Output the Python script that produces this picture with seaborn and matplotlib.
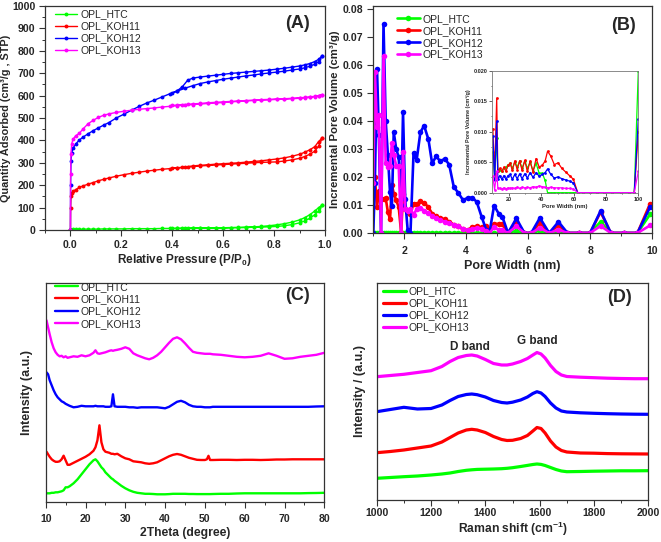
import matplotlib
matplotlib.use('Agg')
import matplotlib.pyplot as plt
import seaborn as sns
import pandas as pd
from matplotlib.ticker import MultipleLocator

sns.set_style('ticks')
plt.rcParams['font.family'] = ['Liberation Sans', 'DejaVu Sans']
plt.rcParams['font.weight'] = 'bold'
plt.rcParams['mathtext.fontset'] = 'custom'
plt.rcParams['mathtext.rm'] = 'Liberation Sans:bold'
plt.rcParams['mathtext.bf'] = 'Liberation Sans:bold'
plt.rcParams['mathtext.it'] = 'Liberation Sans:bold:italic'
plt.rcParams['mathtext.default'] = 'rm'

names = ['OPL_HTC', 'OPL_KOH11', 'OPL_KOH12', 'OPL_KOH13']
colors = ['#00ff00', '#ff0000', '#0000ff', '#ff00ff']

# ---------------- Panel A: N2 isotherms ----------------
P_ads = [0.0, 0.0005, 0.002, 0.005, 0.01, 0.02, 0.035, 0.05, 0.07, 0.09, 0.11, 0.13, 0.15,
         0.18, 0.21, 0.24, 0.27, 0.30, 0.33, 0.36, 0.39, 0.42, 0.45, 0.48, 0.51, 0.54, 0.57,
         0.60, 0.63, 0.66, 0.69, 0.72, 0.75, 0.78, 0.81, 0.84, 0.87, 0.90, 0.92, 0.94, 0.96,
         0.975, 0.99]
P_des = [0.99, 0.975, 0.96, 0.94, 0.92, 0.90, 0.87, 0.84, 0.81, 0.78, 0.75, 0.72, 0.69,
         0.66, 0.63, 0.60, 0.57, 0.54, 0.51, 0.48, 0.46, 0.44, 0.42, 0.40]
htc_ads = [0, 1, 2, 2, 3, 3, 3, 4, 4, 4, 4, 5, 5, 5, 5, 6, 6, 6, 6, 7, 7, 7, 7, 8, 8, 8, 9,
           9, 10, 10, 11, 12, 13, 14, 16, 19, 24, 32, 40, 52, 68, 85, 112]
htc_des = [112, 100, 85, 68, 55, 45, 35, 28, 23, 19, 16, 14, 13, 12, 11, 10, 10, 9, 9, 8, 8,
           8, 7, 7]
koh11_ads = [0, 100, 150, 163, 172, 180, 190, 197, 205, 212, 220, 226, 232, 240, 247, 253,
             258, 263, 267, 271, 274, 277, 280, 283, 286, 288, 290, 292, 294, 296, 298, 300,
             302, 303, 304, 308, 313, 320, 328, 338, 352, 375, 412]
koh11_des = [412, 395, 372, 358, 347, 338, 329, 322, 317, 313, 309, 306, 303, 300, 298, 296,
             294, 291, 289, 286, 283, 280, 278, 276]
koh12_ads = [0, 200, 310, 345, 365, 383, 402, 415, 430, 444, 456, 468, 479, 500, 517, 535,
             552, 567, 580, 594, 608, 620, 633, 644, 654, 661, 667, 673, 678, 683, 688, 692,
             697, 701, 705, 709, 714, 719, 724, 731, 740, 752, 778]
koh12_des = [778, 762, 752, 743, 737, 732, 727, 722, 718, 714, 711, 708, 705, 702, 699, 695,
             691, 687, 683, 678, 668, 640, 622, 612]
koh13_ads = [0, 250, 340, 385, 405, 420, 432, 452, 475, 490, 503, 512, 518, 525, 530, 535,
             539, 542, 545, 549, 552, 555, 558, 560, 562, 565, 567, 569, 572, 574, 576, 578,
             580, 581, 583, 584, 586, 588, 590, 592, 595, 599, 604]
koh13_des = [604, 600, 597, 594, 592, 590, 588, 586, 585, 583, 582, 580, 578, 576, 574, 572,
             570, 568, 565, 563, 561, 560, 558, 556]

# ---------------- Panel B: pore size distribution ----------------
pw = [1.00, 1.05, 1.12, 1.18, 1.25, 1.33, 1.40, 1.47, 1.54, 1.60, 1.66, 1.74, 1.82, 1.90,
      1.96, 2.03, 2.11, 2.20, 2.30, 2.40, 2.52, 2.64, 2.78, 2.90, 3.03, 3.16, 3.31, 3.45,
      3.60, 3.74, 3.90, 4.05, 4.20, 4.34, 4.50, 4.65, 4.75, 4.90, 5.05, 5.17, 5.35, 5.62,
      5.88, 6.10, 6.38, 6.68, 6.98, 7.27, 7.65, 8.00, 8.34, 8.67, 9.10, 9.53, 9.94]
pv_htc = [0, 0, 0, 0, 0, 0, 0, 0, 0, 0, 0, 0, 0, 0, 0, 0, 0, 0, 0, 0, 0, 0, 0, 0, 0, 0, 0,
          0, 0, 0, 0, 0, 0, 0, 0, 0, 0, 0, 0, 0, 0, 0.0008, 0, 0, 0.0008, 0, 0.0005, 0, 0, 0,
          0.0040, 0, 0, 0, 0.0067]
pv_koh11 = [0.015, 0.020, 0.0093, 0.0150, 0.012, 0.0123, 0.0125, 0.0075, 0.0050, 0.0173,
            0.0140, 0.0117, 0.0093, 0.0, 0.014, 0.0087, 0.0075, 0.0069, 0.0105, 0.0102,
            0.0113, 0.0108, 0.0092, 0.0069, 0.0060, 0.0052, 0.0050, 0.0040, 0.0030, 0.0025,
            0.0013, 0.0010, 0.0022, 0.0024, 0.0020, 0.0024, 0.0012, 0.0033, 0.0032, 0.0031,
            0.0, 0.0042, 0.0, 0.0, 0.0036, 0.0, 0.0027, 0, 0, 0, 0.0075, 0, 0, 0, 0.0105]
pv_koh12 = [0.0, 0.018, 0.0585, 0.035, 0.0, 0.0745, 0.040, 0.028, 0.0145, 0.0095, 0.036,
            0.030, 0.027, 0.010, 0.043, 0.012, 0.001, 0.0, 0.0286, 0.026, 0.0359, 0.0383,
            0.0334, 0.0248, 0.0274, 0.0256, 0.0265, 0.0244, 0.0164, 0.0144, 0.0117, 0.0126,
            0.0126, 0.0111, 0.0057, 0.001, 0.0, 0.0098, 0.0069, 0.0057, 0.0, 0.0052, 0.0, 0.0,
            0.0054, 0.0, 0.0040, 0.0, 0.0, 0.0, 0.0079, 0.0, 0.0, 0.0, 0.0093]
pv_koh13 = [0.018, 0.0576, 0.038, 0.042, 0.0, 0.063, 0.0248, 0.0236, 0.024, 0.032, 0.028,
            0.024, 0.024, 0.0, 0.029, 0.0087, 0.0079, 0.0087, 0.0065, 0.0085, 0.0090, 0.0080,
            0.0070, 0.0060, 0.0052, 0.0045, 0.0040, 0.0035, 0.0030, 0.0025, 0.0015, 0.0010,
            0.0015, 0.0018, 0.0015, 0.0008, 0.0, 0.0020, 0.0012, 0.0010, 0.0, 0.0024, 0.0,
            0.0, 0.0018, 0.0, 0.0012, 0, 0, 0, 0.0025, 0, 0, 0, 0.0027]

# inset (10-100 nm)
pw_in = [9.9, 11.0, 12.3, 13.0, 14.2, 15.5, 16.8, 18.0, 19.3, 20.6, 22.0, 23.5, 25.0, 26.5,
         28.0, 29.7, 31.3, 33.0, 34.8, 36.7, 38.6, 40.5, 42.3, 43.8, 45.8, 48.0, 50.3, 52.6,
         55.0, 57.4, 59.8, 62.5, 66.0, 70.0, 74.5, 79.0, 84.0, 89.0, 94.0, 97.5, 100.0]
in_htc = [0.0067, 0.0025, 0.0090, 0.0035, 0.0038, 0.0036, 0.0040, 0.0042, 0.0045, 0.0048,
          0.0040, 0.0050, 0.0042, 0.0052, 0.0040, 0.0052, 0.0040, 0.0050, 0.0036, 0.0048,
          0.0032, 0.0032, 0.0020, 0, 0, 0, 0, 0, 0, 0, 0, 0, 0, 0, 0, 0, 0, 0, 0, 0, 0.0200]
in_koh11 = [0.0105, 0.0030, 0.0155, 0.0035, 0.0040, 0.0035, 0.0042, 0.0035, 0.0045, 0.0048,
            0.0037, 0.0052, 0.0038, 0.0052, 0.0037, 0.0053, 0.0035, 0.0052, 0.0034, 0.0056,
            0.0042, 0.0045, 0.0052, 0.0068, 0.0060, 0.0046, 0.0049, 0.0040, 0.0034, 0.0028,
            0.0022, 0.0, 0, 0, 0, 0, 0, 0, 0, 0, 0.0100]
in_koh12 = [0.0093, 0.0020, 0.0117, 0.0022, 0.0028, 0.0022, 0.0028, 0.0022, 0.0028, 0.0030,
            0.0022, 0.0030, 0.0023, 0.0031, 0.0023, 0.0031, 0.0024, 0.0033, 0.0025, 0.0033,
            0.0027, 0.0030, 0.0033, 0.0039, 0.0030, 0.0024, 0.0026, 0.0023, 0.0021, 0.0019,
            0.0016, 0.0, 0, 0, 0, 0, 0, 0, 0, 0, 0.0120]
in_koh13 = [0.0027, 0.0005, 0.0035, 0.0008, 0.0007, 0.0006, 0.0008, 0.0006, 0.0008, 0.0007,
            0.0008, 0.0007, 0.0009, 0.0007, 0.0009, 0.0008, 0.0009, 0.0008, 0.0010, 0.0009,
            0.0011, 0.0010, 0.0009, 0.0008, 0.0009, 0.0008, 0.0008, 0.0008, 0.0007, 0.0007,
            0.0006, 0.0, 0, 0, 0, 0, 0, 0, 0, 0, 0.0035]

# ---------------- Panel C: XRD ----------------
two_theta = [10.2, 10.6, 11.0, 11.5, 12.0, 12.5, 13.0, 13.5, 14.0, 14.5, 15.0, 15.5, 16.0,
             17.0, 18.0, 19.0, 20.0, 21.0, 22.0, 22.5, 23.0, 23.5, 24.0, 24.5, 25.0, 26.0,
             26.5, 26.9, 27.3, 28.0, 29.0, 30.0, 31.0, 32.0, 33.0, 34.0, 35.0, 36.0, 37.0,
             38.0, 39.0, 40.0, 41.0, 42.0, 43.0, 44.0, 45.0, 46.0, 47.0, 48.0, 49.0, 50.0,
             50.5, 50.9, 51.3, 52.0, 54.0, 56.0, 58.0, 60.0, 62.0, 64.0, 66.0, 68.0, 70.0,
             72.0, 74.0, 76.0, 78.0, 80.0]
xrd_htc = [9, 9, 9, 9.5, 9.5, 10, 10, 10.5, 11, 12, 15, 15, 16, 19, 23, 28, 33, 38, 42, 43,
           41, 38, 35, 33, 30, 26, 24, 23, 21.5, 19.5, 16.5, 14, 12, 10.5, 9.5, 9, 8.5, 8.5,
           8.3, 8, 8, 8, 8.2, 8.5, 8.5, 8.5, 8.5, 8.3, 8.3, 8.2, 8.2, 8.2, 8.2, 8.2, 8.2, 8.3,
           8.5, 8.5, 8.8, 9, 9, 9, 9, 9, 9, 9, 9, 9.2, 9.3, 9.5]
xrd_koh11 = [50.6, 48, 45.5, 43, 41.5, 40.5, 40.5, 41, 43, 46.6, 42, 37.5, 37.5, 39.5, 41.5,
             43.5, 45.5, 48, 51.5, 55, 62, 77, 60, 53, 50.6, 49.5, 48.5, 48.5, 48, 48.5, 46,
             44, 43, 41, 40.5, 40, 39, 38.5, 39, 40, 42, 44, 46, 47.5, 48.3, 47.5, 46, 44.5,
             43.5, 42.5, 42.3, 42.3, 43, 46.5, 42.3, 42.3, 42.5, 42.5, 42.3, 42.5, 42.5, 42.3,
             42.5, 42.8, 42.8, 43, 43, 43, 43, 43]
xrd_koh12 = [130, 128, 122, 117, 112, 108, 105, 103, 101, 100, 98.5, 97.5, 96.5, 95, 95.5,
             96.5, 96, 96, 96, 96.5, 96, 96, 96, 96, 95.5, 95.5, 96, 108, 96, 95.5, 95.5, 95.5,
             95, 95, 94.5, 95, 95, 95, 95, 95, 94.5, 94, 95.5, 98, 100.5, 101.5, 100, 97.5, 96,
             95.5, 95.5, 95, 95, 95, 95, 95.5, 95.5, 95.5, 95.5, 95.5, 95.5, 95.5, 95.5, 95.5,
             95.5, 95.5, 95.5, 95.5, 95.8, 96]
xrd_koh13 = [182, 175, 168, 160, 154, 150, 147.5, 146, 146.5, 145, 146, 144.5, 145, 146,
             145.5, 147, 146, 147, 149.5, 152, 149, 148.5, 149, 149.5, 150, 151.5, 152, 151.5,
             152, 152.5, 153.5, 155, 153.5, 149, 147, 145.5, 144, 143, 144.5, 147, 150.5, 155,
             159.5, 163.5, 165, 163, 159, 154.5, 150.5, 149.5, 149, 148.5, 148.5, 148.5, 148.5,
             148, 147.5, 146.5, 145.5, 145, 145.5, 146.5, 149, 146.5, 143.5, 144, 145.5,
             146.5, 147.5, 149.5]

# ---------------- Panel D: Raman ----------------
raman_shift = [1000, 1050, 1100, 1150, 1200, 1240, 1270, 1300, 1330, 1350, 1370, 1400, 1430,
               1460, 1480, 1500, 1530, 1555, 1575, 1590, 1605, 1620, 1640, 1660, 1680, 1700,
               1750, 1800, 1850, 1900, 1950, 2000]
ram_htc = [21.7, 22.5, 23.3, 24, 25, 26, 27, 28.5, 29.7, 30.2, 30.6, 30.8, 31, 31.3, 31.7,
           32.3, 33.5, 34.6, 35.5, 36, 35.6, 34.5, 32.5, 30.5, 29, 28.3, 28.5, 28.8, 29, 29.2,
           29.2, 29.3]
ram_koh11 = [47.3, 48.5, 50, 52, 54, 58, 62.5, 67, 70, 70.7, 70, 67.5, 63.5, 60.5, 59.5, 59.7,
             61.5, 64.5, 69, 72.5, 71.5, 67, 59, 53, 49.5, 48, 47, 46.8, 46.4, 46.2, 46.1, 46]
ram_koh12 = [88.3, 90.5, 92.7, 91, 91.5, 95, 99.5, 103.5, 105.5, 106, 105.3, 103, 99.5, 97.5,
             97, 97.8, 100, 103, 106.5, 108.3, 107, 103.5, 97, 92, 89, 88, 87.2, 86.7, 86.3,
             86, 85.8, 85.7]
ram_koh13 = [123.3, 124.5, 125.7, 127.5, 129.3, 133.5, 138.5, 142.5, 144.5, 145, 144, 140.5,
             136.5, 135, 135, 136, 138.5, 141.5, 145, 147.5, 146, 142, 134.5, 128.5, 125,
             123.5, 122.8, 122.3, 121.8, 121.5, 121.3, 121.3]

# ======================================================
fig = plt.figure(figsize=(6.61, 5.42), dpi=100)
W, H = 661.0, 542.0


def box(l, t, r, b):
    return [l / W, 1 - b / H, (r - l) / W, (b - t) / H]


axA = fig.add_axes(box(45, 6, 325, 230))
axB = fig.add_axes(box(373.3, 6, 652, 233))
axC = fig.add_axes(box(45.7, 282.7, 324.3, 502.3))
axD = fig.add_axes(box(376.7, 282.7, 648.3, 500))
axI = fig.add_axes(box(491.7, 70.7, 638.3, 192.7))

spine_col = '#333333'
for ax in (axA, axB, axC, axD, axI):
    for s in ax.spines.values():
        s.set_color(spine_col)
        s.set_linewidth(0.9)

leg_prop = {'weight': 'normal', 'size': 7.5}

# ---- A ----
A_sets = [(htc_ads, htc_des), (koh11_ads, koh11_des), (koh12_ads, koh12_des), (koh13_ads, koh13_des)]
for (ads, des), nm, c in zip(A_sets, names, colors):
    df = pd.DataFrame({'P': P_ads + P_des, 'Q': ads + des})
    sns.lineplot(data=df, x='P', y='Q', ax=axA, color=c, marker='o', markersize=2.8,
                 markeredgewidth=0, linewidth=1.0, sort=False, estimator=None, label=nm)
axA.set_xlim(-0.1, 1.0)
axA.set_ylim(0, 1000)
axA.xaxis.set_major_locator(MultipleLocator(0.2))
axA.xaxis.set_minor_locator(MultipleLocator(0.1))
axA.yaxis.set_major_locator(MultipleLocator(100))
axA.yaxis.set_minor_locator(MultipleLocator(50))
axA.set_xlabel('Relative Pressure (P/P$_0$)', fontsize=8.5, fontweight='bold', labelpad=2)
axA.set_ylabel('Quantity Adsorbed (cm³/g , STP)', fontsize=7.8, fontweight='bold', labelpad=1)
axA.legend(loc='upper left', bbox_to_anchor=(0.036, 0.985), frameon=False,
           prop=leg_prop, handlelength=2.1, handletextpad=0.3,
           labelspacing=0.2, borderaxespad=0, borderpad=0)

# ---- B ----
B_sets = [pv_htc, pv_koh11, pv_koh12, pv_koh13]
for vals, nm, c in zip(B_sets, names, colors):
    df = pd.DataFrame({'w': pw, 'v': vals})
    sns.lineplot(data=df, x='w', y='v', ax=axB, color=c, marker='o', markersize=4,
                 markeredgewidth=0, linewidth=1.9, sort=False, estimator=None, label=nm)
axB.set_xlim(1.0, 10.0)
axB.set_ylim(0, 0.081)
axB.xaxis.set_major_locator(MultipleLocator(2))
axB.xaxis.set_minor_locator(MultipleLocator(1))
axB.yaxis.set_major_locator(MultipleLocator(0.01))
axB.set_xlabel('Pore Width (nm)', fontsize=9, fontweight='bold', labelpad=3)
axB.set_ylabel('Incremental Pore Volume (cm³/g)', fontsize=8.2, fontweight='bold', labelpad=2)
axB.legend(loc='upper left', bbox_to_anchor=(0.084, 0.965), frameon=False,
           prop=leg_prop, handlelength=2.2, handletextpad=0.3,
           labelspacing=0.18, borderaxespad=0, borderpad=0)

# ---- inset ----
I_sets = [in_htc, in_koh11, in_koh12, in_koh13]
for vals, nm, c in zip(I_sets, names, colors):
    df = pd.DataFrame({'w': pw_in, 'v': vals})
    sns.lineplot(data=df, x='w', y='v', ax=axI, color=c, marker='o', markersize=2.0,
                 markeredgewidth=0, linewidth=0.9, sort=False, estimator=None, legend=False)
axI.set_xlim(9.2, 100)
axI.set_ylim(0, 0.020)
axI.xaxis.set_major_locator(MultipleLocator(20))
axI.xaxis.set_minor_locator(MultipleLocator(10))
axI.yaxis.set_major_locator(MultipleLocator(0.005))
axI.yaxis.set_minor_locator(MultipleLocator(0.0025))
axI.tick_params(which='major', length=2, width=0.5, labelsize=4, pad=1)
axI.tick_params(which='minor', length=1, width=0.5)
axI.set_xlabel('Pore Width (nm)', fontsize=4.2, fontweight='bold', labelpad=1.5)
axI.set_ylabel('Incremental Pore Volume (cm³/g)', fontsize=3.9, fontweight='bold', labelpad=1.5)
for s in axI.spines.values():
    s.set_color('#777777')
    s.set_linewidth(0.6)

# ---- C ----
C_sets = [xrd_htc, xrd_koh11, xrd_koh12, xrd_koh13]
for vals, nm, c in zip(C_sets, names, colors):
    df = pd.DataFrame({'t': two_theta, 'i': vals})
    sns.lineplot(data=df, x='t', y='i', ax=axC, color=c, linewidth=1.7, sort=False,
                 estimator=None, label=nm)
axC.set_xlim(10, 80)
axC.set_ylim(0, 219.6)
axC.set_yticks([])
axC.xaxis.set_major_locator(MultipleLocator(10))
axC.xaxis.set_minor_locator(MultipleLocator(5))
axC.set_xlabel('2Theta (degree)', fontsize=8.7, fontweight='bold', labelpad=2)
axC.set_ylabel('Intensity (a.u.)', fontsize=9, fontweight='bold', labelpad=9)
axC.legend(loc='upper left', bbox_to_anchor=(0.033, 1.004), frameon=False,
           prop=leg_prop, handlelength=2.2, handletextpad=0.3,
           labelspacing=0.22, borderaxespad=0, borderpad=0)

# ---- D ----
D_sets = [ram_htc, ram_koh11, ram_koh12, ram_koh13]
for vals, nm, c in zip(D_sets, names, colors):
    df = pd.DataFrame({'r': raman_shift, 'i': vals})
    sns.lineplot(data=df, x='r', y='i', ax=axD, color=c, linewidth=2.3, sort=False,
                 estimator=None, label=nm)
axD.set_xlim(1000, 2000)
axD.set_ylim(0, 217.3)
axD.set_yticks([])
axD.xaxis.set_major_locator(MultipleLocator(200))
axD.xaxis.set_minor_locator(MultipleLocator(100))
axD.set_xlabel('Raman shift (cm$^{-1}$)', fontsize=8.7, fontweight='bold', labelpad=1)
axD.set_ylabel('Intensity / (a.u.)', fontsize=9, fontweight='bold', labelpad=8)
axD.legend(loc='upper left', bbox_to_anchor=(0.023, 0.982), frameon=False,
           prop=leg_prop, handlelength=2.2, handletextpad=0.3,
           labelspacing=0.18, borderaxespad=0, borderpad=0)
axD.text(1343, 153, 'D band', ha='center', va='center', fontsize=8.5, fontweight='bold')
axD.text(1593, 159, 'G band', ha='center', va='center', fontsize=8.5, fontweight='bold')

for ax in (axA, axB, axC, axD):
    ax.tick_params(which='major', direction='out', length=4.5, width=0.8, labelsize=7.6,
                   color=spine_col, pad=2.5)
    ax.tick_params(which='minor', direction='out', length=2.5, width=0.7, color=spine_col)
axC.tick_params(which='major', pad=4)
axD.tick_params(which='major', pad=1.5)
axB.tick_params(axis='x', which='major', pad=5)

for ax in (axA, axB, axC, axD, axI):
    for lbl in ax.get_xticklabels() + ax.get_yticklabels():
        lbl.set_fontweight('bold')

for (x, y, t) in [(297, 23, '(A)'), (623, 25, '(B)'), (297, 295, '(C)'), (620, 297, '(D)')]:
    fig.text(x / W, 1 - y / H, t, ha='center', va='center', fontsize=13, fontweight='bold')

fig.savefig('out.png', dpi=100)
